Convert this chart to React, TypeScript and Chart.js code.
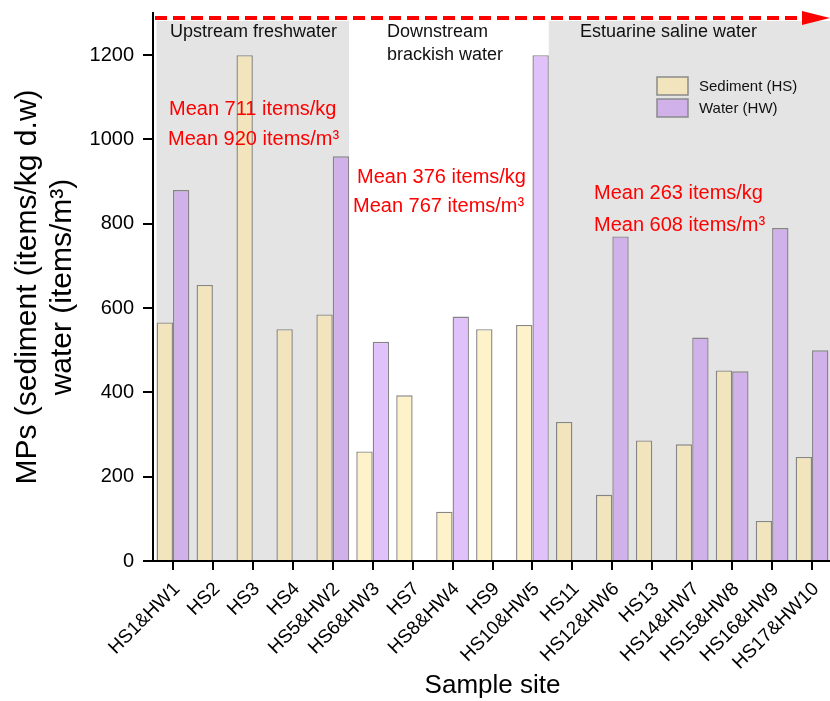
import React, { useEffect, useRef } from 'react';
import { Chart, registerables } from 'chart.js';

Chart.register(...registerables);

const sites = ['HS1&HW1', 'HS2', 'HS3', 'HS4', 'HS5&HW2', 'HS6&HW3', 'HS7', 'HS8&HW4', 'HS9', 'HS10&HW5', 'HS11', 'HS12&HW6', 'HS13', 'HS14&HW7', 'HS15&HW8', 'HS16&HW9', 'HS17&HW10'];
const sediment = [566, 655, 1200, 550, 585, 260, 393, 117, 550, 560, 330, 157, 286, 277, 452, 95, 247];
const water = [880, null, null, null, 960, 520, null, 580, null, 1200, null, 770, null, 530, 450, 790, 500];
const regionOf = [0, 0, 0, 0, 0, 1, 1, 1, 1, 1, 2, 2, 2, 2, 2, 2, 2];
const shadedRegions = [true, false, true];
const regionNames = [['Upstream freshwater'], ['Downstream', 'brackish water'], ['Estuarine saline water']];
const meanTexts = [
  ['Mean 711 items/kg', 'Mean 920 items/m³'],
  ['Mean 376 items/kg', 'Mean 767 items/m³'],
  ['Mean 263 items/kg', 'Mean 608 items/m³'],
];
const yTicks = [0, 200, 400, 600, 800, 1000, 1200];
const seriesNames = ['Sediment (HS)', 'Water (HW)'];

const FONT = "'Liberation Sans', Arial, sans-serif";
const sedColors = ['#f2e4bd', '#fdf2c9'];
const watColors = ['#d1b1ea', '#e1c1fa'];

const overlayPlugin = {
  id: 'overlay',
  beforeDatasetsDraw(chart: any) {
    const { ctx, chartArea, scales } = chart;
    const x = scales.x;
    const cw = x.getPixelForValue(1) - x.getPixelForValue(0);
    const half = cw * 0.41;
    const top = chartArea.top + 8;
    ctx.save();
    ctx.fillStyle = '#e4e4e4';
    for (let r = 0; r < shadedRegions.length; r++) {
      if (!shadedRegions[r]) continue;
      const idx = regionOf.map((v, i) => (v === r ? i : -1)).filter((i) => i >= 0);
      const first = idx[0];
      const last = idx[idx.length - 1];
      const x0 = first === 0 ? x.getPixelForValue(first) - half : x.getPixelForValue(first - 1) + half;
      const x1 = last === sites.length - 1 ? chartArea.right : x.getPixelForValue(last) + half;
      ctx.fillRect(x0, top, x1 - x0, chartArea.bottom - top);
    }
    ctx.restore();
  },
  afterDraw(chart: any) {
    const { ctx, chartArea } = chart;
    ctx.save();
    // dashed red arrow
    ctx.strokeStyle = '#ff0000';
    ctx.lineWidth = 4;
    ctx.setLineDash([12, 6]);
    ctx.beginPath();
    ctx.moveTo(chartArea.left + 2, 18);
    ctx.lineTo(802, 18);
    ctx.stroke();
    ctx.setLineDash([]);
    ctx.fillStyle = '#ff0000';
    ctx.beginPath();
    ctx.moveTo(802, 11);
    ctx.lineTo(830, 18);
    ctx.lineTo(802, 25);
    ctx.closePath();
    ctx.fill();

    // region labels
    ctx.fillStyle = '#111';
    ctx.font = `18px ${FONT}`;
    ctx.textBaseline = 'middle';
    ctx.textAlign = 'left';
    const regPos = [[170, 32], [387, 32], [580, 32]];
    regionNames.forEach((lines, r) => {
      lines.forEach((t, j) => ctx.fillText(t, regPos[r][0], regPos[r][1] + j * 23));
    });

    // mean texts
    ctx.fillStyle = '#ff0000';
    ctx.font = `20px ${FONT}`;
    const meanPos = [
      [[169, 109], [168, 139]],
      [[357, 177], [353, 206]],
      [[594, 193], [594, 225]],
    ];
    meanTexts.forEach((lines, r) => {
      lines.forEach((t, j) => ctx.fillText(t, meanPos[r][j][0], meanPos[r][j][1]));
    });

    // legend
    ctx.font = `15px ${FONT}`;
    const legCols = [sedColors[0], watColors[0]];
    seriesNames.forEach((name, i) => {
      const by = 77 + i * 22;
      ctx.fillStyle = legCols[i];
      ctx.fillRect(657, by, 31, 18);
      ctx.strokeStyle = '#8a8a8a';
      ctx.lineWidth = 1.5;
      ctx.strokeRect(657, by, 31, 18);
      ctx.fillStyle = '#111';
      ctx.fillText(name, 699, by + 9.5);
    });
    ctx.restore();
  },
};

export default function App() {
  const ref = useRef<HTMLCanvasElement>(null);
  useEffect(() => {
    if (!ref.current) return;
    const chart = new Chart(ref.current, {
      type: 'bar',
      data: {
        labels: sites,
        datasets: [
          {
            label: seriesNames[0],
            data: sediment,
            backgroundColor: regionOf.map((r) => sedColors[shadedRegions[r] ? 0 : 1]),
            borderColor: '#858585',
            borderWidth: 1.4,
            categoryPercentage: 0.82,
            barPercentage: 1.0,
          },
          {
            label: seriesNames[1],
            data: water as any,
            backgroundColor: regionOf.map((r) => watColors[shadedRegions[r] ? 0 : 1]),
            borderColor: '#858585',
            borderWidth: 1.4,
            categoryPercentage: 0.82,
            barPercentage: 1.0,
          },
        ],
      },
      options: {
        responsive: false,
        animation: false,
        layout: { padding: { top: 13, left: 0, right: 0, bottom: 0 } },
        plugins: { legend: { display: false }, tooltip: { enabled: false } },
        scales: {
          x: {
            offset: true,
            grid: { display: true, drawOnChartArea: false, drawTicks: true, tickLength: 9, offset: false, color: '#000', lineWidth: 2, z: 1 } as any,
            border: { display: true, color: '#000', width: 2, z: 1 } as any,
            ticks: { minRotation: 45, maxRotation: 45, autoSkip: false, color: '#000', font: { family: FONT, size: 19 }, padding: 8, labelOffset: 4 },
            title: { display: true, text: 'Sample site', color: '#000', font: { family: FONT, size: 26 }, padding: { top: 0, bottom: 0 } },
            afterFit(scale: any) {
              scale.height = 140;
              scale.paddingLeft = 0;
              scale.paddingRight = 0;
            },
          },
          y: {
            min: 0,
            max: 1300,
            ticks: { stepSize: 200, color: '#000', font: { family: FONT, size: 20 }, padding: 9, callback: (v: any) => String(v) },
            afterBuildTicks(scale: any) {
              scale.ticks = yTicks.map((v) => ({ value: v }));
            },
            grid: { drawOnChartArea: false, drawTicks: true, tickLength: 10, color: '#000', lineWidth: 2, z: 1 } as any,
            border: { display: true, color: '#000', width: 2, z: 1 } as any,
            title: {
              display: true,
              text: ['MPs (sediment (items/kg d.w)', 'water (items/m³)'],
              color: '#000',
              font: { family: FONT, size: 30, lineHeight: 1.17 },
              padding: { top: 10.5, bottom: 0 },
            },
            afterFit(scale: any) {
              scale.width = 153;
              scale.paddingTop = 0;
              scale.paddingBottom = 0;
            },
          },
        },
      },
      plugins: [overlayPlugin],
    });
    return () => chart.destroy();
  }, []);
  return (
    <div style={{ position: 'absolute', left: 0, top: 0, width: 830, height: 701, overflow: 'hidden', background: '#fff' }}>
      <canvas ref={ref} width={832} height={701} style={{ display: 'block' }} />
    </div>
  );
}
